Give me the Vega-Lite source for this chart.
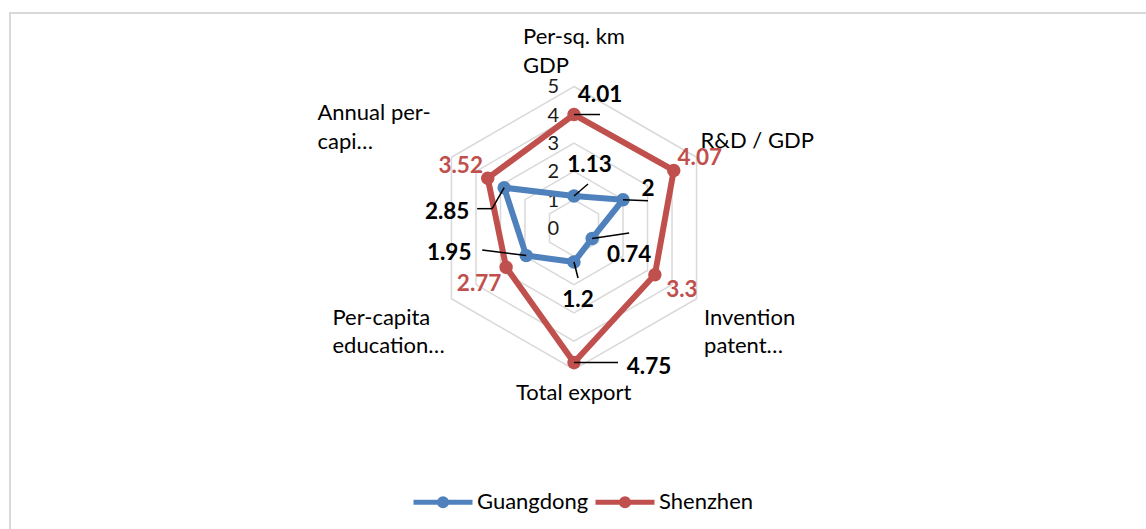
{
  "$schema": "https://vega.github.io/schema/vega-lite/v6.json",
  "width": 1140,
  "height": 520,
  "autosize": {"type": "none"},
  "padding": {"left": 10, "top": 13, "right": 0, "bottom": 0},
  "background": "white",
  "config": {"view": {"stroke": "#d9d9d9", "strokeWidth": 2}, "font": "Lato"},
  "datasets": {
    "pts": [
      {"series": "Guangdong", "idx": 0, "axis": "Per-sq. km GDP", "value": 1.13},
      {"series": "Guangdong", "idx": 1, "axis": "R&D / GDP", "value": 2},
      {"series": "Guangdong", "idx": 2, "axis": "Invention patent", "value": 0.74},
      {"series": "Guangdong", "idx": 3, "axis": "Total export", "value": 1.2},
      {"series": "Guangdong", "idx": 4, "axis": "Per-capita education", "value": 1.95},
      {"series": "Guangdong", "idx": 5, "axis": "Annual per-capita", "value": 2.85},
      {"series": "Shenzhen", "idx": 0, "axis": "Per-sq. km GDP", "value": 4.01},
      {"series": "Shenzhen", "idx": 1, "axis": "R&D / GDP", "value": 4.07},
      {"series": "Shenzhen", "idx": 2, "axis": "Invention patent", "value": 3.3},
      {"series": "Shenzhen", "idx": 3, "axis": "Total export", "value": 4.75},
      {"series": "Shenzhen", "idx": 4, "axis": "Per-capita education", "value": 2.77},
      {"series": "Shenzhen", "idx": 5, "axis": "Annual per-capita", "value": 3.52}
    ],
    "axes": [
      {"idx": 0, "name": "Per-sq. km\nGDP", "level": 5},
      {"idx": 1, "name": "R&D / GDP", "level": 5},
      {"idx": 2, "name": "Invention\npatent…", "level": 5},
      {"idx": 3, "name": "Total export", "level": 5},
      {"idx": 4, "name": "Per-capita\neducation…", "level": 5},
      {"idx": 5, "name": "Annual per-\ncapi…", "level": 5}
    ],
    "levels": [
      {"level": 1, "spoke": [0, 1, 2, 3, 4, 5]},
      {"level": 2, "spoke": [0, 1, 2, 3, 4, 5]},
      {"level": 3, "spoke": [0, 1, 2, 3, 4, 5]},
      {"level": 4, "spoke": [0, 1, 2, 3, 4, 5]},
      {"level": 5, "spoke": [0, 1, 2, 3, 4, 5]}
    ],
    "ticks": [{"tick": 0}, {"tick": 1}, {"tick": 2}, {"tick": 3}, {"tick": 4}, {"tick": 5}]
  },
  "data": {"name": "pts"},
  "transform": [
    {"calculate": "PI/2 - datum.idx*PI/3", "as": "a"},
    {"calculate": "datum.value*cos(datum.a)", "as": "x"},
    {"calculate": "datum.value*sin(datum.a)", "as": "y"},
    {"calculate": "(datum.series=='Guangdong'?'G':'S') + datum.idx", "as": "key"}
  ],
  "encoding": {
    "x": {"field": "x", "type": "quantitative", "scale": {"domain": [-19.929, 20.353], "nice": false, "zero": false}, "axis": null},
    "y": {"field": "y", "type": "quantitative", "scale": {"domain": [-10.777, 7.597], "nice": false, "zero": false}, "axis": null}
  },
  "layer": [
    {
      "data": {"name": "levels"},
      "transform": [
        {"flatten": ["spoke"]},
        {"calculate": "PI/2 - datum.spoke*PI/3", "as": "a"},
        {"calculate": "datum.level*cos(datum.a)", "as": "x"},
        {"calculate": "datum.level*sin(datum.a)", "as": "y"}
      ],
      "mark": {"type": "line", "interpolate": "linear-closed", "stroke": "#d9d9d9", "strokeWidth": 1.5},
      "encoding": {"detail": {"field": "level", "type": "nominal"}, "order": {"field": "spoke", "type": "quantitative"}}
    },
    {
      "data": {"name": "ticks"},
      "transform": [
        {"calculate": "0", "as": "x"},
        {"calculate": "datum.tick", "as": "y"}
      ],
      "mark": {"type": "text", "align": "right", "baseline": "middle", "dx": -15, "dy": 1, "fontSize": 20, "color": "#1a1a1a"},
      "encoding": {"text": {"field": "tick", "type": "nominal"}}
    },
    {
      "mark": {"type": "line", "interpolate": "linear-closed", "strokeWidth": 6},
      "encoding": {
        "color": {
          "field": "series", "type": "nominal",
          "scale": {"domain": ["Guangdong", "Shenzhen"], "range": ["#4f81bd", "#c0504d"]},
          "legend": {
            "orient": "none", "legendX": 401, "legendY": 457, "direction": "horizontal", "title": null,
            "symbolType": "M-1,0L1,0M-0.12,0A0.12,0.12 0 1,0 0.12,0A0.12,0.12 0 1,0 -0.12,0Z",
            "symbolSize": 3481, "symbolStrokeWidth": 5,
            "labelFont": "Lato", "labelFontSize": 22, "labelColor": "#000000", "labelOffset": 2,
            "columnPadding": -4, "padding": 0,
            "encode": {"symbols": {"update": {"fill": {"scale": "color", "field": "value"}, "stroke": {"scale": "color", "field": "value"}, "strokeWidth": {"value": 5}, "opacity": {"value": 1}}}}
          }
        },
        "order": {"field": "idx", "type": "quantitative"}
      }
    },
    {
      "mark": {"type": "point", "filled": true, "size": 180, "opacity": 1, "shape": "circle"},
      "encoding": {
        "color": {
          "field": "series", "type": "nominal",
          "scale": {"domain": ["Guangdong", "Shenzhen"], "range": ["#4f81bd", "#c0504d"]},
          "legend": {
            "orient": "none", "legendX": 401, "legendY": 457, "direction": "horizontal", "title": null,
            "symbolType": "M-1,0L1,0M-0.12,0A0.12,0.12 0 1,0 0.12,0A0.12,0.12 0 1,0 -0.12,0Z",
            "symbolSize": 3481, "symbolStrokeWidth": 5,
            "labelFont": "Lato", "labelFontSize": 22, "labelColor": "#000000", "labelOffset": 2,
            "columnPadding": -4, "padding": 0,
            "encode": {"symbols": {"update": {"fill": {"scale": "color", "field": "value"}, "stroke": {"scale": "color", "field": "value"}, "strokeWidth": {"value": 5}, "opacity": {"value": 1}}}}
          }
        }
      }
    },
    {"transform": [{"filter": "datum.key=='S0'"}], "mark": {"type": "rule", "color": "#000", "strokeWidth": 1.5, "x2Offset": 26, "y2Offset": 0}, "encoding": {"x2": {"field": "x"}, "y2": {"field": "y"}}},
    {"transform": [{"filter": "datum.key=='S3'"}], "mark": {"type": "rule", "color": "#000", "strokeWidth": 1.5, "x2Offset": 44, "y2Offset": 0}, "encoding": {"x2": {"field": "x"}, "y2": {"field": "y"}}},
    {"transform": [{"filter": "datum.key=='G0'"}], "mark": {"type": "rule", "color": "#000", "strokeWidth": 1.5, "x2Offset": 14, "y2Offset": -12}, "encoding": {"x2": {"field": "x"}, "y2": {"field": "y"}}},
    {"transform": [{"filter": "datum.key=='G1'"}], "mark": {"type": "rule", "color": "#000", "strokeWidth": 1.5, "x2Offset": 25, "y2Offset": 1}, "encoding": {"x2": {"field": "x"}, "y2": {"field": "y"}}},
    {"transform": [{"filter": "datum.key=='G2'"}], "mark": {"type": "rule", "color": "#000", "strokeWidth": 1.5, "x2Offset": 37, "y2Offset": -5.5}, "encoding": {"x2": {"field": "x"}, "y2": {"field": "y"}}},
    {"transform": [{"filter": "datum.key=='G3'"}], "mark": {"type": "rule", "color": "#000", "strokeWidth": 1.5, "x2Offset": 4, "y2Offset": 16}, "encoding": {"x2": {"field": "x"}, "y2": {"field": "y"}}},
    {"transform": [{"filter": "datum.key=='G4'"}], "mark": {"type": "rule", "color": "#000", "strokeWidth": 1.5, "x2Offset": -44, "y2Offset": -5.6}, "encoding": {"x2": {"field": "x"}, "y2": {"field": "y"}}},
    {"transform": [{"filter": "datum.key=='G5'"}], "mark": {"type": "rule", "color": "#000", "strokeWidth": 1.5, "x2Offset": -12, "y2Offset": 21}, "encoding": {"x2": {"field": "x"}, "y2": {"field": "y"}}},
    {"transform": [{"filter": "datum.key=='G5'"}], "mark": {"type": "rule", "color": "#000", "strokeWidth": 1.5, "xOffset": -12, "yOffset": 21, "x2Offset": -27, "y2Offset": 21}, "encoding": {"x2": {"field": "x"}, "y2": {"field": "y"}}},
    {"transform": [{"filter": "datum.key=='S0'"}], "mark": {"type": "text", "fontSize": 22.5, "fontWeight": "bold", "color": "#000", "align": "center", "baseline": "middle", "dx": 26, "dy": -19.5}, "encoding": {"text": {"field": "value", "type": "nominal"}}},
    {"transform": [{"filter": "datum.key=='S1'"}], "mark": {"type": "text", "fontSize": 22.5, "fontWeight": "bold", "color": "#c0504d", "align": "center", "baseline": "middle", "dx": 26, "dy": -12}, "encoding": {"text": {"field": "value", "type": "nominal"}}},
    {"transform": [{"filter": "datum.key=='S2'"}], "mark": {"type": "text", "fontSize": 22.5, "fontWeight": "bold", "color": "#c0504d", "align": "center", "baseline": "middle", "dx": 27, "dy": 15}, "encoding": {"text": {"field": "value", "type": "nominal"}}},
    {"transform": [{"filter": "datum.key=='S3'"}], "mark": {"type": "text", "fontSize": 22.5, "fontWeight": "bold", "color": "#000", "align": "center", "baseline": "middle", "dx": 75, "dy": 5}, "encoding": {"text": {"field": "value", "type": "nominal"}}},
    {"transform": [{"filter": "datum.key=='S4'"}], "mark": {"type": "text", "fontSize": 22.5, "fontWeight": "bold", "color": "#c0504d", "align": "center", "baseline": "middle", "dx": -27, "dy": 17}, "encoding": {"text": {"field": "value", "type": "nominal"}}},
    {"transform": [{"filter": "datum.key=='S5'"}], "mark": {"type": "text", "fontSize": 22.5, "fontWeight": "bold", "color": "#c0504d", "align": "center", "baseline": "middle", "dx": -27, "dy": -12}, "encoding": {"text": {"field": "value", "type": "nominal"}}},
    {"transform": [{"filter": "datum.key=='G0'"}], "mark": {"type": "text", "fontSize": 22.5, "fontWeight": "bold", "color": "#000", "align": "center", "baseline": "middle", "dx": 15.5, "dy": -31}, "encoding": {"text": {"field": "value", "type": "nominal"}}},
    {"transform": [{"filter": "datum.key=='G1'"}], "mark": {"type": "text", "fontSize": 22.5, "fontWeight": "bold", "color": "#000", "align": "center", "baseline": "middle", "dx": 25, "dy": -11}, "encoding": {"text": {"field": "value", "type": "nominal"}}},
    {"transform": [{"filter": "datum.key=='G2'"}], "mark": {"type": "text", "fontSize": 22.5, "fontWeight": "bold", "color": "#000", "align": "center", "baseline": "middle", "dx": 37, "dy": 16.5}, "encoding": {"text": {"field": "value", "type": "nominal"}}},
    {"transform": [{"filter": "datum.key=='G3'"}], "mark": {"type": "text", "fontSize": 22.5, "fontWeight": "bold", "color": "#000", "align": "center", "baseline": "middle", "dx": 4, "dy": 38}, "encoding": {"text": {"field": "value", "type": "nominal"}}},
    {"transform": [{"filter": "datum.key=='G4'"}], "mark": {"type": "text", "fontSize": 22.5, "fontWeight": "bold", "color": "#000", "align": "center", "baseline": "middle", "dx": -77, "dy": -3}, "encoding": {"text": {"field": "value", "type": "nominal"}}},
    {"transform": [{"filter": "datum.key=='G5'"}], "mark": {"type": "text", "fontSize": 22.5, "fontWeight": "bold", "color": "#000", "align": "center", "baseline": "middle", "dx": -57, "dy": 24}, "encoding": {"text": {"field": "value", "type": "nominal"}}},
    {
      "data": {"name": "axes"},
      "transform": [
        {"calculate": "PI/2 - datum.idx*PI/3", "as": "a"},
        {"calculate": "datum.level*cos(datum.a)", "as": "x"},
        {"calculate": "datum.level*sin(datum.a)", "as": "y"},
        {"filter": "datum.idx==0"}
      ],
      "mark": {"type": "text", "align": "left", "baseline": "alphabetic", "lineBreak": "\n", "lineHeight": 28.5, "fontSize": 22, "color": "#000", "dx": -51, "dy": -42},
      "encoding": {"text": {"field": "name", "type": "nominal"}}
    },
    {
      "data": {"name": "axes"},
      "transform": [
        {"calculate": "PI/2 - datum.idx*PI/3", "as": "a"},
        {"calculate": "datum.level*cos(datum.a)", "as": "x"},
        {"calculate": "datum.level*sin(datum.a)", "as": "y"},
        {"filter": "datum.idx==1"}
      ],
      "mark": {"type": "text", "align": "left", "baseline": "alphabetic", "lineBreak": "\n", "lineHeight": 28.5, "fontSize": 22, "color": "#000", "dx": 4, "dy": -9},
      "encoding": {"text": {"field": "name", "type": "nominal"}}
    },
    {
      "data": {"name": "axes"},
      "transform": [
        {"calculate": "PI/2 - datum.idx*PI/3", "as": "a"},
        {"calculate": "datum.level*cos(datum.a)", "as": "x"},
        {"calculate": "datum.level*sin(datum.a)", "as": "y"},
        {"filter": "datum.idx==2"}
      ],
      "mark": {"type": "text", "align": "left", "baseline": "alphabetic", "lineBreak": "\n", "lineHeight": 28.5, "fontSize": 22, "color": "#000", "dx": 7.5, "dy": 26},
      "encoding": {"text": {"field": "name", "type": "nominal"}}
    },
    {
      "data": {"name": "axes"},
      "transform": [
        {"calculate": "PI/2 - datum.idx*PI/3", "as": "a"},
        {"calculate": "datum.level*cos(datum.a)", "as": "x"},
        {"calculate": "datum.level*sin(datum.a)", "as": "y"},
        {"filter": "datum.idx==3"}
      ],
      "mark": {"type": "text", "align": "left", "baseline": "alphabetic", "lineBreak": "\n", "lineHeight": 28.5, "fontSize": 22, "color": "#000", "dx": -58, "dy": 30.5},
      "encoding": {"text": {"field": "name", "type": "nominal"}}
    },
    {
      "data": {"name": "axes"},
      "transform": [
        {"calculate": "PI/2 - datum.idx*PI/3", "as": "a"},
        {"calculate": "datum.level*cos(datum.a)", "as": "x"},
        {"calculate": "datum.level*sin(datum.a)", "as": "y"},
        {"filter": "datum.idx==4"}
      ],
      "mark": {"type": "text", "align": "left", "baseline": "alphabetic", "lineBreak": "\n", "lineHeight": 28.5, "fontSize": 22, "color": "#000", "dx": -119, "dy": 26},
      "encoding": {"text": {"field": "name", "type": "nominal"}}
    },
    {
      "data": {"name": "axes"},
      "transform": [
        {"calculate": "PI/2 - datum.idx*PI/3", "as": "a"},
        {"calculate": "datum.level*cos(datum.a)", "as": "x"},
        {"calculate": "datum.level*sin(datum.a)", "as": "y"},
        {"filter": "datum.idx==5"}
      ],
      "mark": {"type": "text", "align": "left", "baseline": "alphabetic", "lineBreak": "\n", "lineHeight": 28.5, "fontSize": 22, "color": "#000", "dx": -134, "dy": -37},
      "encoding": {"text": {"field": "name", "type": "nominal"}}
    }
  ]
}
